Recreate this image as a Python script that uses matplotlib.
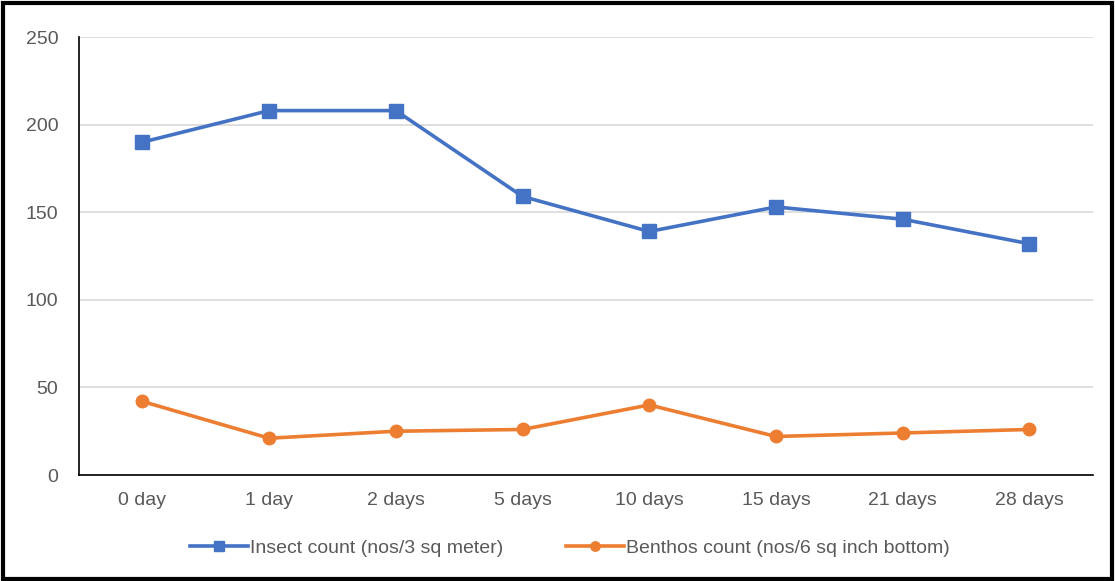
import matplotlib

matplotlib.use("Agg")
import matplotlib.pyplot as plt
from matplotlib.patches import Rectangle

plt.rcParams["font.family"] = ["Liberation Sans Narrow", "Liberation Sans", "DejaVu Sans"]

days = ["0 day", "1 day", "2 days", "5 days", "10 days", "15 days", "21 days", "28 days"]
insect = [190, 208, 208, 159, 139, 153, 146, 132]
benthos = [42, 21, 25, 26, 40, 22, 24, 26]
y_ticks = [0, 50, 100, 150, 200, 250]

BLUE = "#4472C4"
ORANGE = "#ED7D31"
TXT = "#595959"

fig = plt.figure(figsize=(11.15, 5.81), dpi=100)
ax = fig.add_axes([0.0709, 0.1824, 0.9091, 0.7539])

x = range(len(days))
ax.plot(x, insect, color=BLUE, lw=2.6, marker="s", ms=10,
        label="Insect count (nos/3 sq meter)")
ax.plot(x, benthos, color=ORANGE, lw=2.6, marker="o", ms=9,
        label="Benthos count (nos/6 sq inch bottom)")

ax.set_xlim(-0.5, len(days) - 0.5)
ax.set_ylim(0, 250)
ax.set_yticks(y_ticks)
ax.set_xticks(list(x))
ax.set_xticklabels(days)
ax.grid(axis="y", color="#d9d9d9", lw=1.2)
ax.set_axisbelow(True)
for s in ("top", "right"):
    ax.spines[s].set_visible(False)
ax.spines["left"].set_color("black")
ax.spines["bottom"].set_color("black")
ax.spines["left"].set_linewidth(1.2)
ax.spines["bottom"].set_linewidth(1.2)
ax.tick_params(length=0, labelsize=14, colors=TXT)
ax.tick_params(axis="x", pad=12)
ax.tick_params(axis="y", pad=15)

fig.legend(loc="center", bbox_to_anchor=(0.511, 0.057), ncol=2, frameon=False,
           fontsize=14, labelcolor=TXT, handlelength=3.0, columnspacing=3.2,
           handletextpad=0.1, markerscale=0.75)

fig.patches.append(Rectangle((0.003, 0.004), 0.994, 0.99, transform=fig.transFigure,
                             fill=False, edgecolor="black", lw=3))

fig.savefig("out.png", dpi=100)
